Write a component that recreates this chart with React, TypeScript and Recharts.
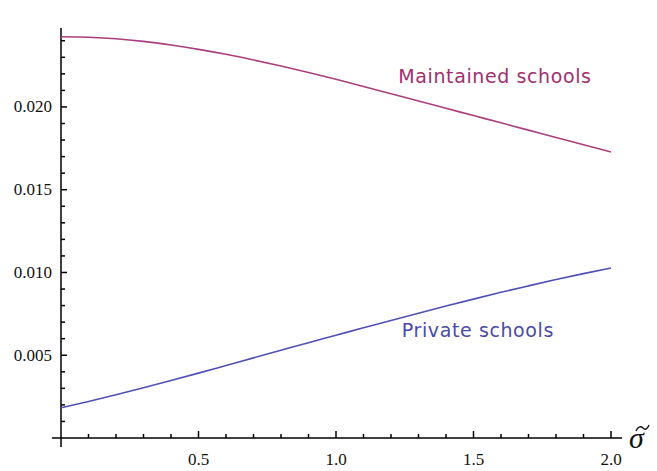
import { LineChart, Line, XAxis, YAxis, ReferenceLine, ReferenceDot } from "recharts";

const SIGMA = [0, 0.1, 0.2, 0.3, 0.4, 0.5, 0.6, 0.7, 0.8, 0.9, 1.0, 1.1, 1.2, 1.3, 1.4, 1.5, 1.6, 1.7, 1.8, 1.9, 2.0];
const MAINTAINED = [
  0.02424, 0.02421, 0.02412, 0.02396, 0.02374, 0.02348, 0.02318, 0.02284, 0.02247, 0.02208, 0.02167,
  0.02124, 0.0208, 0.02036, 0.01992, 0.01948, 0.01904, 0.0186, 0.01816, 0.01772, 0.01728,
];
const PRIVATE = [
  0.00183, 0.00221, 0.00261, 0.00303, 0.00347, 0.00392, 0.00438, 0.00484, 0.0053, 0.00576, 0.00621,
  0.00666, 0.0071, 0.00754, 0.00797, 0.00839, 0.0088, 0.00919, 0.00957, 0.00993, 0.01027,
];
const X_TICKS = [0.1, 0.2, 0.3, 0.4, 0.5, 0.6, 0.7, 0.8, 0.9, 1.0, 1.1, 1.2, 1.3, 1.4, 1.5, 1.6, 1.7, 1.8, 1.9, 2.0];
const Y_TICKS = [
  0.001, 0.002, 0.003, 0.004, 0.005, 0.006, 0.007, 0.008, 0.009, 0.01, 0.011, 0.012,
  0.013, 0.014, 0.015, 0.016, 0.017, 0.018, 0.019, 0.02, 0.021, 0.022, 0.023, 0.024,
];

const rows = SIGMA.map((s, i) => ({ s, maintained: MAINTAINED[i], priv: PRIVATE[i] }));

const MAGENTA = "#ab3f7e";
const BLUE = "#5050b6";
const TICK_FONT = "'Liberation Serif', serif";
const LABEL_FONT = "'DejaVu Sans', sans-serif";

function YTick({ x, y, payload }: any) {
  const v = payload.value;
  const major = Math.round(v * 1000) % 5 === 0;
  const ax = x + 9;
  return (
    <g>
      <line x1={ax} x2={ax + (major ? 6 : 4)} y1={y} y2={y} stroke="#000" strokeWidth={1.5} />
      {major && (
        <text x={x} y={y} textAnchor="end" dominantBaseline="central" fontSize={17} fontFamily={TICK_FONT} fill="#111">
          {v.toFixed(3)}
        </text>
      )}
    </g>
  );
}

function XTick({ x, y, payload }: any) {
  const v = payload.value;
  const major = Math.round(v * 10) % 5 === 0;
  return (
    <g>
      <line x1={x} x2={x} y1={y} y2={y - (major ? 7 : 4)} stroke="#000" strokeWidth={1.5} />
      {major && (
        <text x={x} y={y + 21} textAnchor="middle" dominantBaseline="central" fontSize={17} fontFamily={TICK_FONT} fill="#111">
          {v.toFixed(1)}
        </text>
      )}
    </g>
  );
}

export default function App() {
  return (
    <div style={{ position: "absolute", left: 0, top: 0, background: "#fff" }}>
      <LineChart width={657} height={471} data={rows} margin={{ top: 28, right: 35, bottom: 0, left: 0 }}>
        <XAxis
          dataKey="s"
          type="number"
          domain={[0, 2.04]}
          ticks={X_TICKS}
          axisLine={false}
          tickLine={false}
          tickSize={0}
          tickMargin={0}
          height={33}
          tick={<XTick />}
          interval={0}
        />
        <YAxis
          type="number"
          domain={[0, 0.02477]}
          ticks={Y_TICKS}
          axisLine={false}
          tickLine={false}
          tickSize={0}
          tickMargin={9}
          width={61}
          tick={<YTick />}
          interval={0}
          allowDataOverflow
        />
        <ReferenceLine
          segment={[{ x: -0.033, y: 0 }, { x: 2.04, y: 0 }]}
          stroke="#000"
          strokeWidth={1.5}
          ifOverflow="visible"
        />
        <ReferenceLine
          segment={[{ x: 0, y: -0.00055 }, { x: 0, y: 0.02477 }]}
          stroke="#000"
          strokeWidth={1.5}
          ifOverflow="visible"
        />
        <Line type="monotone" dataKey="maintained" stroke={MAGENTA} strokeWidth={1.6} dot={false} isAnimationActive={false} />
        <Line type="monotone" dataKey="priv" stroke={BLUE} strokeWidth={1.6} dot={false} isAnimationActive={false} />
        <ReferenceDot
          x={1.578}
          y={0.02187}
          r={0}
          ifOverflow="visible"
          label={{ value: "Maintained schools", position: "center", fill: "#a0306e", fontSize: 19, letterSpacing: 0.6, fontFamily: LABEL_FONT }}
        />
        <ReferenceDot
          x={1.516}
          y={0.00653}
          r={0}
          ifOverflow="visible"
          label={{ value: "Private schools", position: "center", fill: "#4a4aa8", fontSize: 19, letterSpacing: 0.6, fontFamily: LABEL_FONT }}
        />
      </LineChart>
      {/* axis label: sigma with a tilde drawn as a path */}
      <div
        style={{
          position: "absolute",
          left: 629,
          top: 423,
          fontFamily: "'Liberation Serif', serif",
          fontStyle: "italic",
          fontSize: 30,
          lineHeight: "30px",
          color: "#111",
        }}
      >
        σ
      </div>
      <svg width={657} height={471} style={{ position: "absolute", left: 0, top: 0, pointerEvents: "none" }}>
        <path d="M636,431 C638,426 641,426 643,428 S647,430 649,425" fill="none" stroke="#111" strokeWidth={1.4} />
      </svg>
    </div>
  );
}
